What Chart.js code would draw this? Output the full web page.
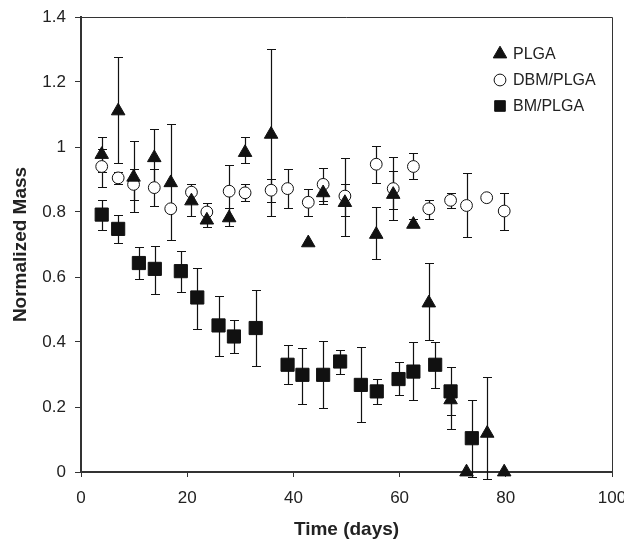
<!DOCTYPE html>
<html>
<head>
<meta charset="utf-8">
<script src="https://cdn.jsdelivr.net/npm/chart.js@4.4.1/dist/chart.umd.min.js"></script>
<style>
html, body { margin: 0; padding: 0; background: #fff; }
</style>
</head>
<body>
<canvas id="massChart" width="624" height="541"></canvas>
<script>
// values (days, normalized mass, error bar ends)
const plgaDays = [3.9, 7.0, 9.9, 13.8, 16.9, 20.8, 23.7, 27.9, 30.9, 35.8, 42.8, 45.6, 49.7, 55.6, 58.8, 62.6, 65.5, 69.6, 72.6, 76.5, 79.7];
const plgaMass = [0.977, 1.111, 0.907, 0.967, 0.89, 0.834, 0.775, 0.782, 0.983, 1.039, 0.705, 0.859, 0.829, 0.731, 0.854, 0.762, 0.52, 0.222, 0, 0.119, 0];
const plgaLow  = [0.923, 0.952, 0.80, 0.879, 0.713, 0.787, 0.753, 0.757, 0.952, 0.787, null, 0.826, 0.787, 0.656, 0.808, null, 0.407, 0.133, null, -0.02, null];
const plgaHigh = [1.031, 1.278, 1.019, 1.055, 1.072, null, null, 0.813, 1.031, 1.301, null, null, 0.885, 0.816, 0.926, 0.777, 0.643, null, null, 0.292, null];

const dbmDays = [3.9, 7.0, 9.9, 13.8, 16.9, 20.8, 23.7, 27.9, 30.9, 35.8, 38.9, 42.8, 45.6, 49.7, 55.6, 58.8, 62.6, 65.5, 69.6, 72.6, 76.4, 79.7];
const dbmMass = [0.94, 0.905, 0.885, 0.875, 0.81, 0.861, 0.80, 0.864, 0.859, 0.867, 0.872, 0.83, 0.885, 0.849, 0.947, 0.872, 0.94, 0.81, 0.836, 0.82, 0.844, 0.803];
const dbmLow  = [0.878, 0.887, 0.837, 0.82, null, 0.835, 0.771, 0.782, 0.834, 0.83, 0.813, 0.787, 0.834, 0.726, 0.89, 0.775, 0.902, 0.78, 0.813, 0.723, null, 0.746];
const dbmHigh = [0.995, 0.923, 0.931, 0.931, null, 0.887, 0.829, 0.946, 0.885, 0.902, 0.931, 0.872, 0.936, 0.965, 1.003, 0.97, 0.98, 0.837, 0.859, 0.921, null, 0.859];

const bmDays = [3.9, 7.0, 10.9, 13.9, 18.8, 21.9, 25.9, 28.8, 32.9, 38.9, 41.7, 45.6, 48.8, 52.7, 55.7, 59.8, 62.6, 66.7, 69.6, 73.6];
const bmMass = [0.792, 0.748, 0.643, 0.625, 0.618, 0.537, 0.451, 0.417, 0.443, 0.33, 0.299, 0.299, 0.34, 0.268, 0.248, 0.286, 0.309, 0.33, 0.248, 0.104];
const bmLow  = [0.746, 0.705, 0.594, 0.549, 0.553, 0.44, 0.356, 0.366, 0.325, 0.271, 0.21, 0.196, 0.302, 0.153, 0.21, 0.237, 0.222, 0.258, 0.174, -0.015];
const bmHigh = [0.837, 0.792, 0.692, 0.695, 0.681, 0.628, 0.543, 0.467, 0.559, 0.39, 0.383, 0.404, 0.376, 0.386, 0.286, 0.337, 0.40, 0.40, 0.322, 0.222];

const seriesNames = ['PLGA', 'DBM/PLGA', 'BM/PLGA'];
const xTicks = [0, 20, 40, 60, 80, 100];
const yTicks = [0, 0.2, 0.4, 0.6, 0.8, 1.0, 1.2, 1.4];

const ink = '#111';
const textColor = '#222';
const series = [
    { name: seriesNames[0], days: plgaDays, mass: plgaMass, low: plgaLow, high: plgaHigh, style: 'triangle', radius: 7.8, fill: ink },
    { name: seriesNames[1], days: dbmDays, mass: dbmMass, low: dbmLow, high: dbmHigh, style: 'circle', radius: 5.9, fill: '#fff' },
    { name: seriesNames[2], days: bmDays, mass: bmMass, low: bmLow, high: bmHigh, style: 'rect', radius: 9.3, fill: ink }
];

const errorBars = {
    id: 'errorBars',
    beforeDatasetsDraw(chart) {
        const { ctx, scales: { x, y } } = chart;
        ctx.save();
        ctx.strokeStyle = ink;
        ctx.lineWidth = 1.2;
        series.forEach(s => {
            s.days.forEach((d, i) => {
                const px = Math.round(x.getPixelForValue(d)) + 0.5;
                const py = y.getPixelForValue(s.mass[i]);
                [s.low[i], s.high[i]].forEach(v => {
                    if (v === null) return;
                    const pv = Math.round(y.getPixelForValue(v)) + 0.5;
                    ctx.beginPath();
                    ctx.moveTo(px, py);
                    ctx.lineTo(px, pv);
                    ctx.moveTo(px - 4.5, pv);
                    ctx.lineTo(px + 4.5, pv);
                    ctx.stroke();
                });
            });
        });
        ctx.restore();
    }
};

const frameAndLegend = {
    id: 'frameAndLegend',
    afterDraw(chart) {
        const { ctx, chartArea: a } = chart;
        ctx.save();
        ctx.strokeStyle = '#333';
        ctx.lineWidth = 1;
        ctx.beginPath();
        ctx.moveTo(a.left, a.top + 0.5);
        ctx.lineTo(a.right + 0.5, a.top + 0.5);
        ctx.lineTo(a.right + 0.5, a.bottom);
        ctx.stroke();

        ctx.font = '16px "Liberation Sans", Arial, sans-serif';
        ctx.textBaseline = 'middle';
        series.forEach((s, i) => {
            const lx = a.right - 112;
            const ly = a.top + 37 + i * 26;
            ctx.fillStyle = s.fill;
            ctx.strokeStyle = ink;
            Chart.helpers.drawPoint(ctx, { pointStyle: s.style, radius: s.style === 'rect' ? 7.5 : s.radius, borderWidth: 1 }, lx, ly);
            ctx.fillStyle = textColor;
            ctx.fillText(s.name, lx + 13, ly + 1);
        });
        ctx.restore();
    }
};

new Chart(document.getElementById('massChart'), {
    type: 'scatter',
    data: {
        datasets: series.map(s => ({
            label: s.name,
            data: s.days.map((d, i) => ({ x: d, y: s.mass[i] })),
            pointStyle: s.style,
            pointRadius: s.radius,
            pointBackgroundColor: s.fill,
            pointBorderColor: ink,
            pointBorderWidth: 1,
            clip: false
        }))
    },
    options: {
        responsive: false,
        animation: false,
        layout: { padding: { top: 17, right: 12, left: 0, bottom: 0 } },
        plugins: { legend: { display: false }, tooltip: { enabled: false } },
        scales: {
            x: {
                type: 'linear', min: 0, max: 100,
                afterBuildTicks: s => { s.ticks = xTicks.map(v => ({ value: v })); },
                afterFit: s => { s.height = 69; s.paddingLeft = 0; s.paddingRight = 0; },
                border: { display: true, color: '#333', width: 2 },
                grid: { drawOnChartArea: false, drawTicks: true, tickLength: 5, color: '#333' },
                ticks: { color: textColor, padding: 11, maxRotation: 0, font: { size: 17, family: '"Liberation Sans", Arial, sans-serif' } },
                title: {
                    display: true, text: 'Time (days)', color: textColor,
                    padding: { top: 9, bottom: 0 },
                    font: { size: 19, weight: 'bold', family: '"Liberation Sans", Arial, sans-serif' }
                }
            },
            y: {
                type: 'linear', min: 0, max: 1.4,
                afterBuildTicks: s => { s.ticks = yTicks.map(v => ({ value: v })); },
                afterFit: s => { s.width = 81; s.paddingTop = 0; s.paddingBottom = 0; },
                border: { display: true, color: '#333', width: 2 },
                grid: { drawOnChartArea: false, drawTicks: true, tickLength: 6, color: '#333' },
                ticks: {
                    color: textColor, padding: 9,
                    font: { size: 17, family: '"Liberation Sans", Arial, sans-serif' },
                    callback: v => String(Number(v.toFixed(1)))
                },
                title: {
                    display: true, text: 'Normalized Mass', color: textColor,
                    padding: { top: 9, bottom: 0 },
                    font: { size: 19, weight: 'bold', family: '"Liberation Sans", Arial, sans-serif' }
                }
            }
        }
    },
    plugins: [errorBars, frameAndLegend]
});
</script>
</body>
</html>
